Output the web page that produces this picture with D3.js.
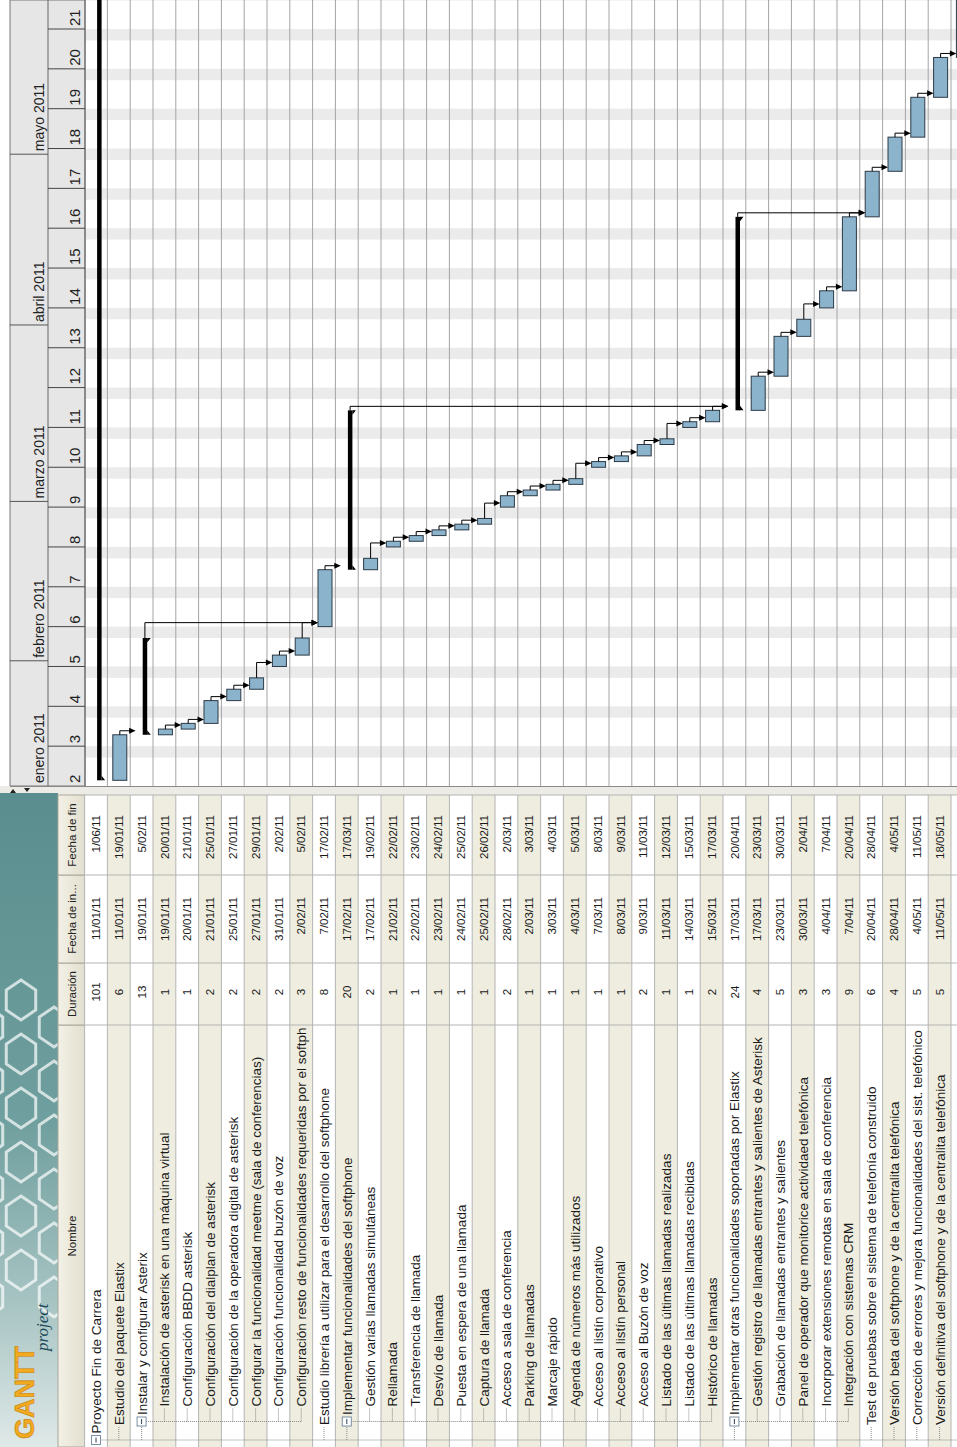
<!DOCTYPE html>
<html>
<head>
<meta charset="utf-8">
<script src="https://cdn.jsdelivr.net/npm/d3@7"></script>
<style>
  body { margin: 0; background: #fff; }
  svg { display: block; font-family: "Liberation Sans", Arial, sans-serif; }
</style>
</head>
<body>
<svg id="svg" width="957" height="1447"></svg>
<script>
// ---- data ----
var names = [
  "Proyecto Fin de Carrera",
  "Estudio del paquete Elastix",
  "Instalar y configurar Asterix",
  "Instalación de asterisk en una máquina virtual",
  "Configuración BBDD asterisk",
  "Configuración del dialplan de asterisk",
  "Configuración de la operadora digital de asterisk",
  "Configurar la funcionalidad meetme (sala de conferencias)",
  "Configuración funcionalidad buzón de voz",
  "Configuración resto de funcionalidades requeridas por el softph...",
  "Estudio librería a utilizar para el desarrollo del softphone",
  "Implementar funcionalidades del softphone",
  "Gestión varias llamadas simultáneas",
  "Rellamada",
  "Transferencia de llamada",
  "Desvío de llamada",
  "Puesta en espera de una llamada",
  "Captura de llamada",
  "Acceso a sala de conferencia",
  "Parking de llamadas",
  "Marcaje rápido",
  "Agenda de números más utilizados",
  "Acceso al listín corporativo",
  "Acceso al listín personal",
  "Acceso al Buzón de voz",
  "Listado de las últimas llamadas realizadas",
  "Listado de las últimas llamadas recibidas",
  "Histórico de llamadas",
  "Implementar otras funcionalidades soportadas por Elastix",
  "Gestión registro de llamadas entrantes y salientes de Asterisk",
  "Grabación de llamadas entrantes y salientes",
  "Panel de operador que monitorice actividaed telefónica",
  "Incorporar extensiones remotas en sala de conferencia",
  "Integración con sistemas CRM",
  "Test de pruebas sobre el sistema de telefonía construido",
  "Versión beta del softphone y de la centralita telefónica",
  "Corrección de errores y mejora funcionalidades del sist. telefónico",
  "Versión definitiva del softphone y de la centralita telefónica",
  "Elaboración de la memoria final"
];
var levels = [0, 1, 1, 2, 2, 2, 2, 2, 2, 2, 1, 1, 2, 2, 2, 2, 2, 2, 2, 2,
  2, 2, 2, 2, 2, 2, 2, 2, 1, 2, 2, 2, 2, 2, 1, 1, 1, 1, 1];
var durations = [101, 6, 13, 1, 1, 2, 2, 2, 2, 3, 8, 20, 2, 1, 1, 1, 1, 1, 2, 1,
  1, 1, 1, 1, 2, 1, 1, 2, 24, 4, 5, 3, 3, 9, 6, 4, 5, 5, 10];
var startDates = ["11/01/11", "11/01/11", "19/01/11", "19/01/11", "20/01/11", "21/01/11",
  "25/01/11", "27/01/11", "31/01/11", "2/02/11", "7/02/11", "17/02/11", "17/02/11",
  "21/02/11", "22/02/11", "23/02/11", "24/02/11", "25/02/11", "28/02/11", "2/03/11",
  "3/03/11", "4/03/11", "7/03/11", "8/03/11", "9/03/11", "11/03/11", "14/03/11",
  "15/03/11", "17/03/11", "17/03/11", "23/03/11", "30/03/11", "4/04/11", "7/04/11",
  "20/04/11", "28/04/11", "4/05/11", "11/05/11", "18/05/11"];
var endDates = ["1/06/11", "19/01/11", "5/02/11", "20/01/11", "21/01/11", "25/01/11",
  "27/01/11", "29/01/11", "2/02/11", "5/02/11", "17/02/11", "17/03/11", "19/02/11",
  "22/02/11", "23/02/11", "24/02/11", "25/02/11", "26/02/11", "2/03/11", "3/03/11",
  "4/03/11", "5/03/11", "8/03/11", "9/03/11", "11/03/11", "12/03/11", "15/03/11",
  "17/03/11", "20/04/11", "23/03/11", "30/03/11", "2/04/11", "7/04/11", "20/04/11",
  "28/04/11", "4/05/11", "11/05/11", "18/05/11", "1/06/11"];
// predecessor -> successor (row indices)
var deps = [[1, 2], [3, 4], [4, 5], [5, 6], [6, 7], [7, 8], [8, 9], [2, 10], [9, 10],
  [10, 11], [12, 13], [13, 14], [14, 15], [15, 16], [16, 17], [17, 18], [18, 19],
  [19, 20], [20, 21], [21, 22], [22, 23], [23, 24], [24, 25], [25, 26], [26, 27],
  [11, 28], [27, 28], [29, 30], [30, 31], [31, 32], [32, 33], [28, 34], [33, 34],
  [34, 35], [35, 36], [36, 37], [37, 38]];
var weekLabels = [2, 3, 4, 5, 6, 7, 8, 9, 10, 11, 12, 13, 14, 15, 16, 17, 18, 19, 20, 21];
var monthLabels = ["enero 2011", "febrero 2011", "marzo 2011", "abril 2011", "mayo 2011"];
var columnLabels = ["Nombre", "Duración", "Fecha de in...", "Fecha de fin"];

// ---- layout ----
var svg = d3.select("#svg");
var W = +svg.attr("width"), H = +svg.attr("height");
// the whole screenshot is turned a quarter left: draw it upright, then rotate
var g = svg.append("g").attr("transform", "translate(0," + H + ") rotate(-90)");

var parseDate = d3.utcParse("%d/%m/%y");
var tasks = names.map(function (n, i) {
  return {
    i: i, name: n, level: levels[i], dur: durations[i],
    sLabel: startDates[i], eLabel: endDates[i],
    start: parseDate(startDates[i]), end: parseDate(endDates[i]),
    summary: i < names.length - 1 && levels[i + 1] > levels[i]
  };
});

var rowH = 22.8;
var row = d3.scaleLinear().domain([0, 1]).range([84.6, 84.6 + rowH]);
var chartL = 661, tableR = 652, headTop = 10, headMid = 48, headBot = 85;
var t = d3.scaleUtc()
  .domain([new Date(Date.UTC(2011, 0, 10)), new Date(Date.UTC(2011, 4, 23))])
  .range([chartL, 1418]);
var cols = [0, 422, 484, 572, tableR];

var defs = svg.append("defs");
defs.append("clipPath").attr("id", "chartClip").append("rect")
  .attr("x", chartL).attr("y", 0).attr("width", H - chartL).attr("height", W);
defs.append("clipPath").attr("id", "nameClip").append("rect")
  .attr("x", 0).attr("y", 0).attr("width", cols[1] - 2).attr("height", W);
defs.append("clipPath").attr("id", "logoClip").append("rect")
  .attr("x", 0).attr("y", 0).attr("width", tableR + 2).attr("height", 58);
var lg = defs.append("linearGradient").attr("id", "teal")
  .attr("gradientUnits", "userSpaceOnUse")
  .attr("x1", 0).attr("y1", 0).attr("x2", tableR).attr("y2", 0);
lg.append("stop").attr("offset", 0).attr("stop-color", "#dfe9e8");
lg.append("stop").attr("offset", 0.22).attr("stop-color", "#a7c4c3");
lg.append("stop").attr("offset", 0.5).attr("stop-color", "#6f9f9e");
lg.append("stop").attr("offset", 1).attr("stop-color", "#5a8e8e");
var hg = defs.append("linearGradient").attr("id", "headCell")
  .attr("x1", 0).attr("y1", 0).attr("x2", 0).attr("y2", 1);
hg.append("stop").attr("offset", 0).attr("stop-color", "#f3f1e6");
hg.append("stop").attr("offset", 1).attr("stop-color", "#e2dfcf");

// ---- chart part ----
var chart = g.append("g").attr("clip-path", "url(#chartClip)");
chart.append("rect").attr("x", chartL).attr("y", headBot)
  .attr("width", H - chartL).attr("height", W - headBot).attr("fill", "#fff");

var weekends = d3.utcSaturday.range(new Date(Date.UTC(2011, 0, 1)), new Date(Date.UTC(2011, 5, 10)));
chart.selectAll("rect.we").data(weekends).enter().append("rect")
  .attr("class", "we")
  .attr("x", function (d) { return t(d); })
  .attr("width", function (d) { return t(d3.utcDay.offset(d, 2)) - t(d); })
  .attr("y", headBot).attr("height", W - headBot)
  .attr("fill", "#ebebeb");

chart.selectAll("line.row").data(d3.range(tasks.length + 1)).enter().append("line")
  .attr("class", "row")
  .attr("x1", chartL).attr("x2", H)
  .attr("y1", function (i) { return row(i); }).attr("y2", function (i) { return row(i); })
  .attr("stroke", "#a4a4a4").attr("stroke-width", 1);

// time header
var head = g.append("g").attr("clip-path", "url(#chartClip)");
head.append("rect").attr("x", chartL).attr("y", headTop)
  .attr("width", H - chartL).attr("height", headBot - headTop)
  .attr("fill", "#e6e6e6").attr("stroke", "#777");
head.append("line").attr("x1", chartL).attr("x2", H)
  .attr("y1", headMid).attr("y2", headMid).attr("stroke", "#666");
head.append("line").attr("x1", chartL).attr("x2", H)
  .attr("y1", headBot).attr("y2", headBot).attr("stroke", "#666");

var monthStarts = d3.utcMonth.range(new Date(Date.UTC(2011, 1, 1)), new Date(Date.UTC(2011, 5, 1)));
head.selectAll("line.month").data(monthStarts).enter().append("line")
  .attr("class", "month")
  .attr("x1", function (d) { return t(d); }).attr("x2", function (d) { return t(d); })
  .attr("y1", headTop).attr("y2", headMid).attr("stroke", "#555");
var monthLabelPos = [t.domain()[0]].concat(monthStarts);
head.selectAll("text.month").data(monthLabels).enter().append("text")
  .attr("class", "month")
  .attr("x", function (d, i) { return t(monthLabelPos[i]) + 3; })
  .attr("y", headMid - 4)
  .attr("font-size", 14).attr("fill", "#222")
  .text(function (d) { return d; });

var weekStarts = d3.utcMonday.range(t.domain()[0], new Date(Date.UTC(2011, 5, 1)));
head.selectAll("line.week").data(weekStarts.slice(1)).enter().append("line")
  .attr("class", "week")
  .attr("x1", function (d) { return t(d); }).attr("x2", function (d) { return t(d); })
  .attr("y1", headMid).attr("y2", headBot).attr("stroke", "#444");
head.selectAll("text.week").data(weekLabels).enter().append("text")
  .attr("class", "week")
  .attr("x", function (d, i) { return t(weekStarts[i]) + 3; })
  .attr("y", headBot - 5)
  .attr("font-size", 15).attr("fill", "#222")
  .text(function (d) { return d; });

// bars
var leaf = tasks.filter(function (d) { return !d.summary; });
var summ = tasks.filter(function (d) { return d.summary; });
chart.selectAll("rect.bar").data(leaf).enter().append("rect")
  .attr("class", "bar")
  .attr("x", function (d) { return t(d.start); })
  .attr("width", function (d) { return t(d.end) - t(d.start); })
  .attr("y", function (d) { return row(d.i) + 5.4; })
  .attr("height", 14)
  .attr("fill", "#8cb3cc").attr("stroke", "#2c3a46").attr("stroke-width", 1);

chart.selectAll("rect.sum").data(summ).enter().append("rect")
  .attr("class", "sum")
  .attr("x", function (d) { return t(d.start); })
  .attr("width", function (d) { return t(d.end) - t(d.start); })
  .attr("y", function (d) { return row(d.i) + 12.5; })
  .attr("height", 4.5).attr("fill", "#000");
chart.selectAll("path.sumEnd").data(summ).enter().append("path")
  .attr("class", "sumEnd")
  .attr("d", function (d) {
    var a = t(d.start), b = t(d.end), v = row(d.i) + 17;
    return "M" + a + "," + v + "h4.5l-4.5,3.5Z" + "M" + b + "," + v + "h-4.5l4.5,3.5Z";
  })
  .attr("fill", "#000");

// dependency arrows
var depG = chart.append("g");
deps.forEach(function (dp) {
  var p = tasks[dp[0]], s = tasks[dp[1]];
  var x1 = t(p.end), y1 = row(p.i) + (p.summary ? 14.7 : 12.4);
  var x2 = t(s.start) + 4, y2 = row(s.i) + 5.4;
  depG.append("path")
    .attr("d", "M" + x1 + "," + y1 + "H" + x2 + "V" + (y2 - 5))
    .attr("fill", "none").attr("stroke", "#000").attr("stroke-width", 1);
  depG.append("path")
    .attr("d", "M" + (x2 - 3) + "," + (y2 - 6.5) + "L" + (x2 + 3) + "," + (y2 - 6.5) + "L" + x2 + "," + y2 + "Z")
    .attr("fill", "#000");
});

// splitter between table and chart
g.append("rect").attr("x", tableR).attr("y", 0).attr("width", chartL - tableR).attr("height", W)
  .attr("fill", "#ecebe6");
g.append("line").attr("x1", chartL - 0.5).attr("x2", chartL - 0.5).attr("y1", headTop).attr("y2", W)
  .attr("stroke", "#8a8a8a");
g.append("path").attr("d", "M" + (tableR + 2) + ",10l4,3l-4,3Z M" + (chartL - 2) + ",24l-4,3l4,3Z")
  .attr("fill", "#222");

// ---- table part ----
var table = g.append("g");
table.append("rect").attr("x", 0).attr("y", 0).attr("width", tableR + 2).attr("height", 58)
  .attr("fill", "url(#teal)");
// honeycomb decoration of the logo panel
var hexPts = d3.range(6).map(function (k) { return [Math.cos(k * Math.PI / 3), Math.sin(k * Math.PI / 3)]; });
var hexCenters = [];
for (var cu = 150; cu < 470; cu += 54) {
  for (var cv = -12; cv < 80; cv += 33) {
    hexCenters.push([cu + ((Math.round((cv + 12) / 33) % 2) ? 27 : 0), cv]);
  }
}
table.append("g").attr("clip-path", "url(#logoClip)")
  .selectAll("path").data(hexCenters).enter().append("path")
  .attr("d", function (c) {
    return d3.line()(hexPts.map(function (p) { return [c[0] + 20 * p[0], c[1] + 17 * p[1]]; })) + "Z";
  })
  .attr("fill", "none").attr("stroke", "#fff").attr("stroke-width", 3).attr("stroke-opacity", 0.7);
table.append("text").attr("x", 8).attr("y", 34)
  .attr("font-size", 27).attr("font-weight", "bold").attr("fill", "#f2aa1f")
  .attr("stroke", "#c98412").attr("stroke-width", 0.6)
  .text("GANTT");
table.append("text").attr("x", 96).attr("y", 48)
  .attr("font-size", 17).attr("font-style", "italic")
  .attr("font-family", "'Liberation Serif', 'DejaVu Serif', serif").attr("fill", "#1d4b5a")
  .text("project");

// header cells
table.selectAll("rect.hcell").data(columnLabels).enter().append("rect")
  .attr("class", "hcell")
  .attr("x", function (d, i) { return cols[i]; })
  .attr("width", function (d, i) { return cols[i + 1] - cols[i]; })
  .attr("y", 58).attr("height", headBot - 58)
  .attr("fill", "url(#headCell)").attr("stroke", "#a9a79b");
table.selectAll("text.hcell").data(columnLabels).enter().append("text")
  .attr("class", "hcell")
  .attr("x", function (d, i) { return (cols[i] + cols[i + 1]) / 2; })
  .attr("y", 76).attr("text-anchor", "middle")
  .attr("font-size", 11.5).attr("fill", "#222")
  .text(function (d) { return d; });

// row backgrounds and grid
table.selectAll("rect.trow").data(tasks).enter().append("rect")
  .attr("class", "trow")
  .attr("x", 0).attr("width", tableR)
  .attr("y", function (d) { return row(d.i); }).attr("height", rowH)
  .attr("fill", function (d) { return d.i % 2 ? "#eeeddf" : "#fff"; });
table.selectAll("line.trow").data(d3.range(tasks.length + 1)).enter().append("line")
  .attr("class", "trow")
  .attr("x1", 0).attr("x2", tableR)
  .attr("y1", function (i) { return row(i); }).attr("y2", function (i) { return row(i); })
  .attr("stroke", "#b4b4b4");
table.selectAll("line.tcol").data(cols.slice(1)).enter().append("line")
  .attr("class", "tcol")
  .attr("x1", function (d) { return d; }).attr("x2", function (d) { return d; })
  .attr("y1", headBot).attr("y2", W)
  .attr("stroke", "#b4b4b4");

// tree lines, expand boxes and names
function boxU(l) { return 7 + 18.5 * l; }
function textU(d) { return d.summary ? boxU(d.level) + 6.5 : boxU(d.level - 1) + 15; }
function mid(i) { return row(i) + 11.4; }
var tree = table.append("g").attr("clip-path", "url(#nameClip)");
tasks.forEach(function (d) {
  if (d.level > 0) {
    tree.append("line")
      .attr("x1", boxU(d.level - 1)).attr("x2", d.summary ? boxU(d.level) - 4.5 : textU(d) - 2)
      .attr("y1", mid(d.i)).attr("y2", mid(d.i))
      .attr("stroke", "#8a8a8a").attr("stroke-dasharray", "1,1");
  }
  if (d.summary) {
    var last = d.i;
    while (last + 1 < tasks.length && tasks[last + 1].level > d.level) last++;
    tree.append("line")
      .attr("x1", boxU(d.level)).attr("x2", boxU(d.level))
      .attr("y1", mid(d.i) + 4.5).attr("y2", mid(last))
      .attr("stroke", "#8a8a8a").attr("stroke-dasharray", "1,1");
  }
});
var boxes = tree.selectAll("g.box").data(summ).enter().append("g")
  .attr("class", "box")
  .attr("transform", function (d) { return "translate(" + boxU(d.level) + "," + mid(d.i) + ")"; });
boxes.append("rect").attr("x", -4.5).attr("y", -4.5).attr("width", 9).attr("height", 9)
  .attr("fill", "#fff").attr("stroke", "#7b8fa6");
boxes.append("line").attr("x1", -2.5).attr("x2", 2.5).attr("y1", 0).attr("y2", 0)
  .attr("stroke", "#2b3f5a");
tree.selectAll("text.name").data(tasks).enter().append("text")
  .attr("class", "name")
  .attr("x", function (d) { return textU(d); })
  .attr("y", function (d) { return row(d.i) + 16.3; })
  .attr("font-size", 13.5).attr("fill", "#1a1a1a")
  .text(function (d) { return d.name; });

// numbers and dates
table.selectAll("text.dur").data(tasks).enter().append("text")
  .attr("class", "dur")
  .attr("x", (cols[1] + cols[2]) / 2 + 2)
  .attr("y", function (d) { return row(d.i) + 15.5; })
  .attr("text-anchor", "middle").attr("font-size", 11.5).attr("fill", "#1a1a1a")
  .text(function (d) { return d.dur; });
table.selectAll("text.sdate").data(tasks).enter().append("text")
  .attr("class", "sdate")
  .attr("x", cols[3] - 22)
  .attr("y", function (d) { return row(d.i) + 15.5; })
  .attr("text-anchor", "end").attr("font-size", 11.5).attr("fill", "#1a1a1a")
  .text(function (d) { return d.sLabel; });
table.selectAll("text.edate").data(tasks).enter().append("text")
  .attr("class", "edate")
  .attr("x", cols[4] - 20)
  .attr("y", function (d) { return row(d.i) + 15.5; })
  .attr("text-anchor", "end").attr("font-size", 11.5).attr("fill", "#1a1a1a")
  .text(function (d) { return d.eLabel; });
</script>
</body>
</html>
